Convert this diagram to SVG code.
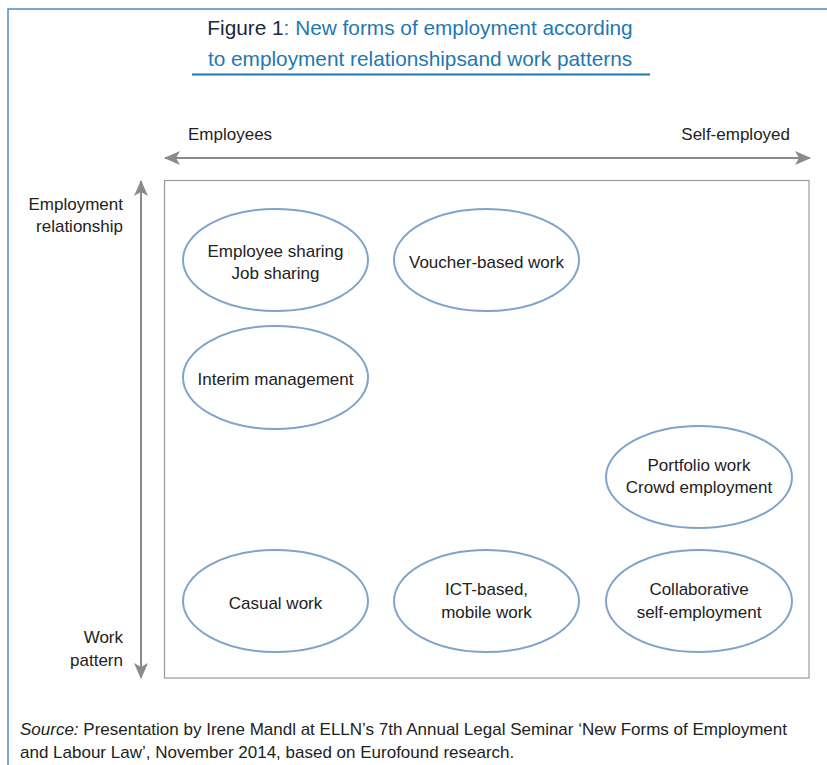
<svg xmlns="http://www.w3.org/2000/svg" width="827" height="765" viewBox="0 0 827 765">
<style>
.t{font-family:"Liberation Sans",Arial,sans-serif;font-size:17px;fill:#222}
.ttl{font-family:"Liberation Sans",Arial,sans-serif;font-size:20.8px;fill:#1f78b0}
.el{fill:#fff;stroke:#7fa3cc;stroke-width:2}
.ax{stroke:#8a8a8a;stroke-width:2;fill:none}
</style>
<defs>
<marker id="ah" viewBox="0 0 16 14" refX="15" refY="7" markerWidth="16" markerHeight="14" markerUnits="userSpaceOnUse" orient="auto">
<path d="M0,0 L16,7 L0,14 L4,7 Z" fill="#8a8a8a"/>
</marker>
</defs>
<rect width="827" height="765" fill="#fff"/>
<path d="M8,765 V9 H827" fill="none" stroke="#4d8dc0" stroke-width="1.5"/>
<g id="title">
<text class="ttl" x="420" y="35" text-anchor="middle"><tspan fill="#1b2a3a">Figure 1</tspan>: New forms of employment according</text>
<text class="ttl" x="420" y="66" text-anchor="middle">to employment relationshipsand work patterns</text>
<line x1="192" y1="74.5" x2="650" y2="74.5" stroke="#1f78b0" stroke-width="2"/>
</g>
<g id="axis-labels">
<text class="t" x="188" y="140">Employees</text>
<text class="t" x="790" y="140" text-anchor="end">Self-employed</text>
<text class="t" x="123" y="210" text-anchor="end">Employment</text>
<text class="t" x="123" y="232" text-anchor="end">relationship</text>
<text class="t" x="123" y="643" text-anchor="end">Work</text>
<text class="t" x="123" y="666" text-anchor="end">pattern</text>
</g>
<g id="connectors">
<line class="ax" x1="487" y1="158" x2="165" y2="158" marker-end="url(#ah)"/>
<line class="ax" x1="487" y1="158" x2="810" y2="158" marker-end="url(#ah)"/>
<line class="ax" x1="141" y1="430" x2="141" y2="181" marker-end="url(#ah)"/>
<line class="ax" x1="141" y1="430" x2="141" y2="678" marker-end="url(#ah)"/>
</g>
<rect id="frame" x="164.5" y="180.5" width="644.5" height="497.5" fill="none" stroke="#999" stroke-width="1.2"/>
<g id="n1"><ellipse class="el" cx="275.5" cy="260" rx="92.5" ry="51"/><text class="t" x="275.5" y="257" text-anchor="middle">Employee sharing</text><text class="t" x="275.5" y="279" text-anchor="middle">Job sharing</text></g>
<g id="n2"><ellipse class="el" cx="486.5" cy="260" rx="92.5" ry="51"/><text class="t" x="486.5" y="268" text-anchor="middle">Voucher-based work</text></g>
<g id="n3"><ellipse class="el" cx="275.5" cy="377.5" rx="92.5" ry="51.5"/><text class="t" x="275.5" y="385" text-anchor="middle">Interim management</text></g>
<g id="n4"><ellipse class="el" cx="699" cy="477" rx="93" ry="51"/><text class="t" x="699" y="471" text-anchor="middle">Portfolio work</text><text class="t" x="699" y="493" text-anchor="middle">Crowd employment</text></g>
<g id="n5"><ellipse class="el" cx="275.5" cy="601" rx="92.5" ry="51"/><text class="t" x="275.5" y="609" text-anchor="middle">Casual work</text></g>
<g id="n6"><ellipse class="el" cx="486.5" cy="601" rx="92.5" ry="51"/><text class="t" x="486.5" y="595" text-anchor="middle">ICT-based,</text><text class="t" x="486.5" y="618" text-anchor="middle">mobile work</text></g>
<g id="n7"><ellipse class="el" cx="699" cy="601" rx="93" ry="51"/><text class="t" x="699" y="595" text-anchor="middle">Collaborative</text><text class="t" x="699" y="618" text-anchor="middle">self-employment</text></g>
<g id="source">
<text class="t" x="20" y="735" fill="#2a3340"><tspan font-style="italic">Source:</tspan> Presentation by Irene Mandl at ELLN’s 7th Annual Legal Seminar ‘New Forms of Employment</text>
<text class="t" x="20" y="758">and Labour Law’, November 2014, based on Eurofound research.</text>
</g>
</svg>
